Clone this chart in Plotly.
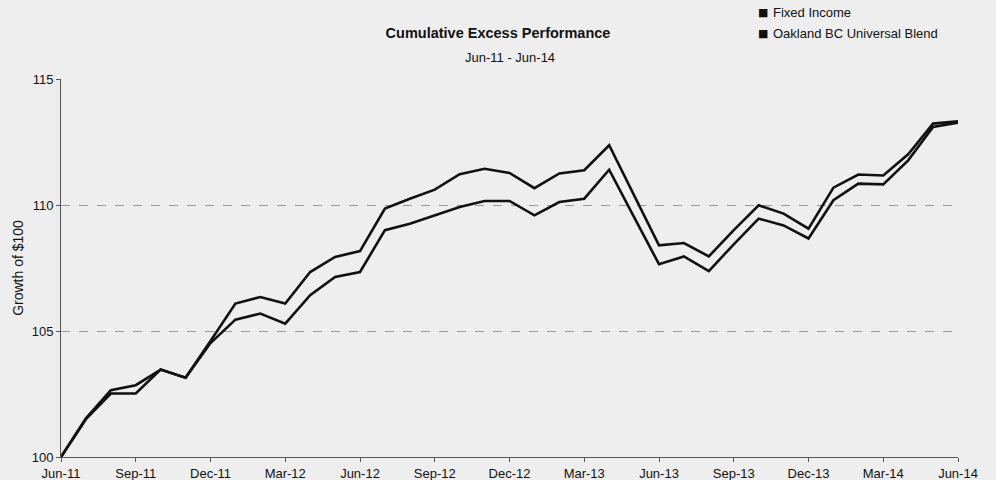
import plotly.graph_objects as go

months = ["Jun-11","Jul-11","Aug-11","Sep-11","Oct-11","Nov-11","Dec-11","Jan-12","Feb-12","Mar-12",
          "Apr-12","May-12","Jun-12","Jul-12","Aug-12","Sep-12","Oct-12","Nov-12","Dec-12","Jan-13",
          "Feb-13","Mar-13","Apr-13","May-13","Jun-13","Jul-13","Aug-13","Sep-13","Oct-13","Nov-13",
          "Dec-13","Jan-14","Feb-14","Mar-14","Apr-14","May-14","Jun-14"]

fixed_income = [100.0, 101.54, 102.65, 102.85, 103.47, 103.15, 104.60, 106.09, 106.35, 106.09,
                107.34, 107.94, 108.17, 109.86, 110.25, 110.61, 111.22, 111.44, 111.27, 110.67,
                111.25, 111.38, 112.37, 110.40, 108.40, 108.49, 107.96, 109.00, 109.99, 109.66,
                109.06, 110.69, 111.21, 111.17, 112.01, 113.23, 113.32]

oakland_bc = [100.0, 101.50, 102.52, 102.52, 103.47, 103.15, 104.52, 105.45, 105.69, 105.29,
              106.42, 107.14, 107.34, 109.00, 109.26, 109.59, 109.92, 110.16, 110.16, 109.59,
              110.12, 110.25, 111.40, 109.52, 107.65, 107.96, 107.38, 108.44, 109.46, 109.19,
              108.67, 110.19, 110.85, 110.82, 111.77, 113.10, 113.27]

series_names = ["Fixed Income", "Oakland BC Universal Blend"]
tick_months = months[::3]
y_ticks = [100, 105, 110, 115]

font_main = "Liberation Sans, Arial"
W, H = 996, 480
L, R, T, B = 61, 38, 79, 23
PW, PH = W - L - R, H - T - B

def px_x(x):
    return (x - L) / PW

def px_y(y):
    return (H - B - y) / PH

fig = go.Figure()
for nm, vals in zip(series_names, [fixed_income, oakland_bc]):
    fig.add_trace(go.Scatter(x=months, y=vals, mode="lines", name=nm,
                             line=dict(color="#111111", width=2.6), showlegend=False))

annotations = [
    dict(text="Jun-11 - Jun-14", xref="paper", yref="paper", x=0.5, y=px_y(57),
         xanchor="center", yanchor="middle", showarrow=False,
         font=dict(family=font_main, size=13, color="#111111")),
]
for i, nm in enumerate(series_names):
    yy = 12 + 21 * i
    annotations.append(dict(text="■", xref="paper", yref="paper", x=px_x(763), y=px_y(yy),
                            xanchor="center", yanchor="middle", showarrow=False,
                            font=dict(family="DejaVu Sans", size=11, color="#111111")))
    annotations.append(dict(text=nm, xref="paper", yref="paper", x=px_x(771), y=px_y(yy),
                            xanchor="left", yanchor="middle", showarrow=False,
                            font=dict(family=font_main, size=13, color="#111111")))

fig.update_layout(
    width=W, height=H,
    margin=dict(l=L, r=R, t=T, b=B, autoexpand=False),
    paper_bgcolor="#eeeeee", plot_bgcolor="#eeeeee",
    font=dict(family=font_main, size=13, color="#111111"),
    title=dict(text="<b>Cumulative Excess Performance</b>", x=0.5, xanchor="center",
               y=1 - 33/480, yanchor="middle",
               font=dict(family=font_main, size=14.5, color="#111111")),
    showlegend=False,
    annotations=annotations,
)
fig.update_xaxes(
    type="category", range=[0, len(months) - 1], tickmode="array", tickvals=tick_months,
    ticktext=tick_months, ticks="outside", ticklen=4, tickcolor="#555555",
    showline=True, linecolor="#555555", linewidth=1, showgrid=False, zeroline=False,
    tickfont=dict(family=font_main, size=13), tickangle=0,
)
fig.update_yaxes(
    range=[100, 115], tickmode="array", tickvals=y_ticks, ticks="outside", ticklen=4,
    tickcolor="#555555", showline=True, linecolor="#555555", linewidth=1,
    showgrid=True, gridcolor="#999999", griddash="dash", gridwidth=1, zeroline=False,
    tickfont=dict(family=font_main, size=13), ticklabelstandoff=0,
    title=dict(text="Growth of $100", font=dict(family=font_main, size=14), standoff=4),
)

fig.write_html("out.html", config={"displayModeBar": False},
               post_script="document.body.style.margin='0';")
